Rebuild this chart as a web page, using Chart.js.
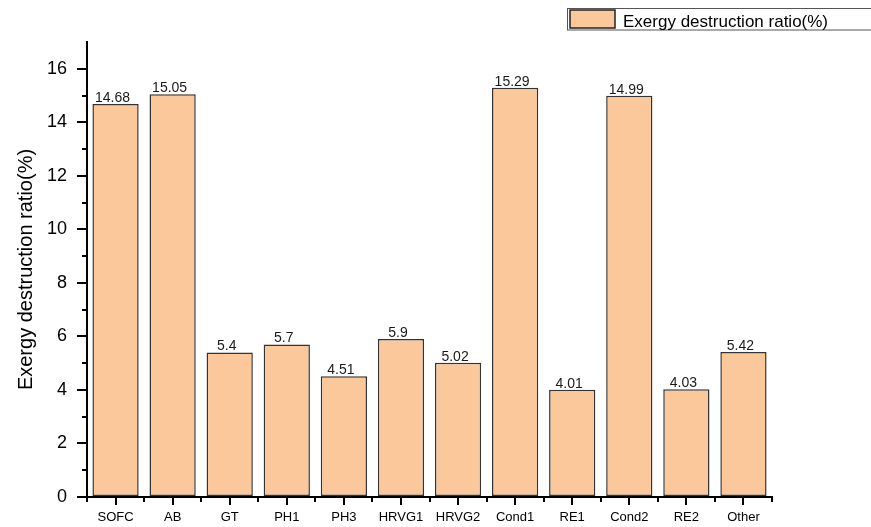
<!DOCTYPE html>
<html>
<head>
<meta charset="utf-8">
<title>Exergy destruction ratio</title>
<script src="https://cdn.jsdelivr.net/npm/chart.js@4/dist/chart.umd.min.js"></script>
<style>
  html, body { margin: 0; padding: 0; background: #fff; }
  #wrap { position: relative; width: 871px; height: 527px; }
</style>
</head>
<body>
<div id="wrap"><canvas id="ratioChart"></canvas></div>
<script>
// Components and their share of exergy destruction (%)
const components = ['SOFC', 'AB', 'GT', 'PH1', 'PH3', 'HRVG1', 'HRVG2', 'Cond1', 'RE1', 'Cond2', 'RE2', 'Other'];
const destructionRatio = [14.68, 15.05, 5.4, 5.7, 4.51, 5.9, 5.02, 15.29, 4.01, 14.99, 4.03, 5.42];
const yMajorTicks = [0, 2, 4, 6, 8, 10, 12, 14, 16];
const yMinorTicks = [1, 3, 5, 7, 9, 11, 13, 15];

const barFill = 'rgb(250, 200, 155)';
const barEdge = '#333';
const fontFamily = "Arial, 'Liberation Sans', sans-serif";

// Short ticks between the major ones, like Origin draws them
const minorTicks = {
    id: 'minorTicks',
    afterDraw(chart) {
        const ctx = chart.ctx;
        const x = chart.scales.x;
        const y = chart.scales.y;
        ctx.save();
        ctx.strokeStyle = '#000';
        ctx.lineWidth = 2;
        ctx.beginPath();
        yMinorTicks.forEach(v => {
            const py = Math.round(y.getPixelForValue(v));
            ctx.moveTo(y.right - 5, py);
            ctx.lineTo(y.right, py);
        });
        const step = (x.right - x.left) / components.length;
        for (let i = 0; i <= components.length; i++) {
            const px = Math.round(x.left + i * step);
            ctx.moveTo(px, x.top);
            ctx.lineTo(px, x.top + 5);
        }
        ctx.stroke();
        ctx.restore();
    }
};

// Value printed above each bar
const valueLabels = {
    id: 'valueLabels',
    afterDatasetsDraw(chart) {
        const ctx = chart.ctx;
        const meta = chart.getDatasetMeta(0);
        ctx.save();
        ctx.font = '14px ' + fontFamily;
        ctx.fillStyle = '#1a1a1a';
        ctx.textAlign = 'center';
        ctx.textBaseline = 'alphabetic';
        meta.data.forEach((bar, i) => {
            ctx.fillText(String(destructionRatio[i]), bar.x - 3, bar.y - 2);
        });
        ctx.restore();
    }
};

// Framed legend in the top right corner
const frameLegend = {
    id: 'frameLegend',
    afterDraw(chart) {
        const ctx = chart.ctx;
        const label = chart.data.datasets[0].label;
        ctx.save();
        ctx.strokeStyle = '#555';
        ctx.lineWidth = 1;
        ctx.strokeRect(567.5, 8.5, 320, 21.5);
        ctx.fillStyle = barFill;
        ctx.fillRect(570, 10, 45, 18);
        ctx.strokeStyle = '#222';
        ctx.lineWidth = 1.5;
        ctx.strokeRect(570, 10, 45, 18);
        ctx.fillStyle = '#000';
        ctx.font = '17px ' + fontFamily;
        ctx.textBaseline = 'alphabetic';
        ctx.fillText(label, 623, 26.5);
        ctx.restore();
    }
};

const ctx = document.getElementById('ratioChart').getContext('2d');
new Chart(ctx, {
    type: 'bar',
    data: {
        labels: components,
        datasets: [{
            label: 'Exergy destruction ratio(%)',
            data: destructionRatio,
            backgroundColor: barFill,
            borderColor: barEdge,
            borderWidth: 1.5,
            borderSkipped: false,
            barPercentage: 0.81,
            categoryPercentage: 1
        }]
    },
    options: {
        responsive: true,
        maintainAspectRatio: false,
        animation: false,
        devicePixelRatio: 1,
        layout: { padding: { left: 0, right: 99, top: 42, bottom: 0 } },
        plugins: {
            legend: { display: false },
            tooltip: { enabled: false }
        },
        scales: {
            x: {
                offset: true,
                grid: {
                    offset: false,
                    drawOnChartArea: false,
                    drawTicks: true,
                    tickLength: 8,
                    color: '#000',
                    lineWidth: 2
                },
                border: { color: '#000', width: 2 },
                ticks: {
                    color: '#000',
                    padding: 5,
                    maxRotation: 0,
                    autoSkip: false,
                    font: { family: fontFamily, size: 13 }
                },
                afterFit(scale) { scale.height = 30; }
            },
            y: {
                min: 0,
                max: 17,
                afterBuildTicks(scale) {
                    scale.ticks = yMajorTicks.map(v => ({ value: v }));
                },
                grid: {
                    drawOnChartArea: false,
                    drawTicks: true,
                    tickLength: 10,
                    color: '#000',
                    lineWidth: 2
                },
                border: { color: '#000', width: 2 },
                ticks: {
                    color: '#000',
                    padding: 10,
                    font: { family: fontFamily, size: 18 }
                },
                title: {
                    display: true,
                    text: 'Exergy destruction ratio(%)',
                    color: '#000',
                    padding: { top: 14, bottom: 0 },
                    font: { family: fontFamily, size: 20, weight: 'normal' }
                },
                afterFit(scale) { scale.width = 87; }
            }
        }
    },
    plugins: [minorTicks, valueLabels, frameLegend]
});
</script>
</body>
</html>
